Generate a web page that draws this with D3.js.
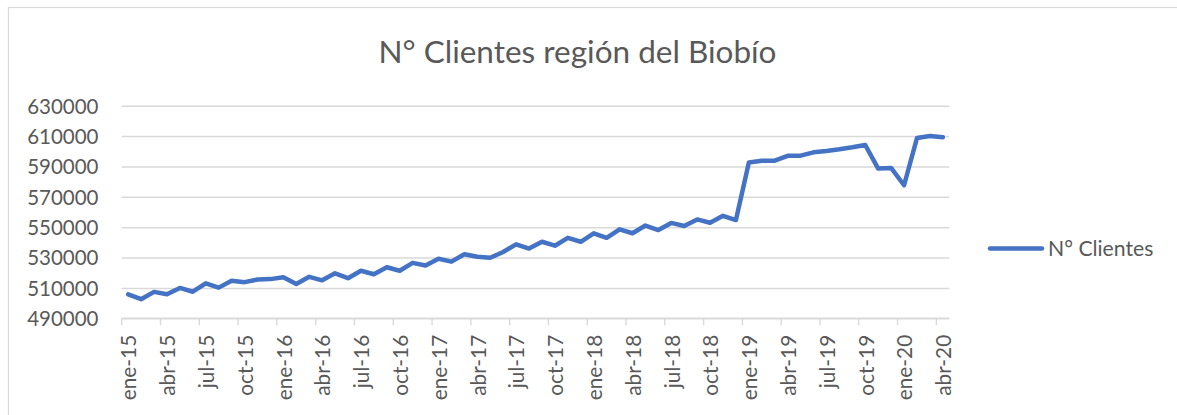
<!DOCTYPE html>
<html>
<head>
<meta charset="utf-8">
<script src="https://cdn.jsdelivr.net/npm/d3@7"></script>
<style>
  html, body { margin: 0; padding: 0; background: #ffffff; }
  svg { display: block; }
  text { font-family: Lato, "Open Sans", "Noto Sans", sans-serif; fill: #595959; }
</style>
</head>
<body>
<svg id="chart" width="1177" height="415"></svg>
<script>
const title = "N° Clientes región del Biobío";
const seriesName = "N° Clientes";

const categories = [
  "ene-15","feb-15","mar-15","abr-15","may-15","jun-15","jul-15","ago-15","sep-15","oct-15","nov-15","dic-15",
  "ene-16","feb-16","mar-16","abr-16","may-16","jun-16","jul-16","ago-16","sep-16","oct-16","nov-16","dic-16",
  "ene-17","feb-17","mar-17","abr-17","may-17","jun-17","jul-17","ago-17","sep-17","oct-17","nov-17","dic-17",
  "ene-18","feb-18","mar-18","abr-18","may-18","jun-18","jul-18","ago-18","sep-18","oct-18","nov-18","dic-18",
  "ene-19","feb-19","mar-19","abr-19","may-19","jun-19","jul-19","ago-19","sep-19","oct-19","nov-19","dic-19",
  "ene-20","feb-20","mar-20","abr-20"
];

const clientes = [
  505800, 502600, 507400, 505800, 510000, 507500, 513000, 510200, 514700, 513800, 515500, 515800,
  517000, 512600, 517300, 515000, 519600, 516400, 521300, 519000, 523600, 521300, 526500, 524800,
  529200, 527300, 532200, 530500, 529900, 533700, 538700, 535900, 540400, 537800, 543000, 540400,
  546000, 543000, 548600, 546000, 551100, 548100, 552800, 550800, 555100, 552900, 557500, 554700,
  592600, 593700, 593800, 597000, 597100, 599300, 600200, 601300, 602600, 604100, 588600, 589000,
  577600, 608700, 610000, 609200
];

const yTicks = [490000, 510000, 530000, 550000, 570000, 590000, 610000, 630000];
const xTickLabels = categories.filter((d, i) => i % 3 === 0);

const svg = d3.select("#chart");
const color = "#4472C4";
const gridColor = "#d9d9d9";

// chart border
svg.append("rect")
  .attr("x", 8.5).attr("y", 7.5)
  .attr("width", 1200).attr("height", 500)
  .attr("fill", "none").attr("stroke", gridColor).attr("stroke-width", 1.2);

const plotLeft = 121.7, plotRight = 949.3, plotTop = 105.7, plotBottom = 318.3;

const x = d3.scaleBand().domain(categories).range([plotLeft, plotRight]).padding(0);
const y = d3.scaleLinear().domain([490000, 630000]).range([plotBottom, plotTop]);
const bw = x.bandwidth();

// gridlines
const grid = svg.append("g").attr("transform", `translate(${plotLeft},0)`)
  .call(d3.axisLeft(y).tickValues(yTicks).tickSize(-(plotRight - plotLeft)).tickFormat(""));
grid.select(".domain").remove();
grid.selectAll(".tick line").attr("stroke", gridColor).attr("stroke-width", 1.4);

// y labels
const yAxis = svg.append("g").attr("transform", `translate(98.5,0)`)
  .call(d3.axisLeft(y).tickValues(yTicks).tickSize(0).tickPadding(0).tickFormat(d3.format("d")));
yAxis.select(".domain").remove();
yAxis.selectAll("text")
  .style("font-size", "20.5px").attr("fill", "#595959")
  .attr("dy", "0.36em");

// x axis
const xAxis = svg.append("g").attr("transform", `translate(0,${plotBottom})`)
  .call(d3.axisBottom(x).tickValues(xTickLabels).tickSize(7).tickPadding(0));
xAxis.select(".domain").attr("stroke", gridColor).attr("stroke-width", 1.4)
  .attr("d", `M${plotLeft},0H${plotRight}`);
xAxis.selectAll(".tick line")
  .attr("stroke", gridColor).attr("stroke-width", 1.4)
  .attr("x1", -bw / 2).attr("x2", -bw / 2);
xAxis.selectAll(".tick text")
  .style("font-size", "20.8px").attr("fill", "#595959")
  .attr("text-anchor", "end")
  .attr("y", 0).attr("dy", "0.4em")
  .attr("transform", "translate(0,16.5) rotate(-90)");

// line
const line = d3.line()
  .x((d, i) => x(categories[i]) + bw / 2)
  .y(d => y(d));

svg.append("path")
  .datum(clientes)
  .attr("d", line)
  .attr("fill", "none")
  .attr("stroke", color)
  .attr("stroke-width", 4.5)
  .attr("stroke-linejoin", "round")
  .attr("stroke-linecap", "round");

// title
svg.append("text")
  .attr("x", 577.5).attr("y", 62.5)
  .attr("text-anchor", "middle")
  .style("font-size", "31.5px")
  .text(title);

// legend
svg.append("line")
  .attr("x1", 990).attr("x2", 1042)
  .attr("y1", 248.5).attr("y2", 248.5)
  .attr("stroke", color).attr("stroke-width", 4.5).attr("stroke-linecap", "round");
svg.append("text")
  .attr("x", 1048).attr("y", 256)
  .style("font-size", "21.2px")
  .text(seriesName);
</script>
</body>
</html>
